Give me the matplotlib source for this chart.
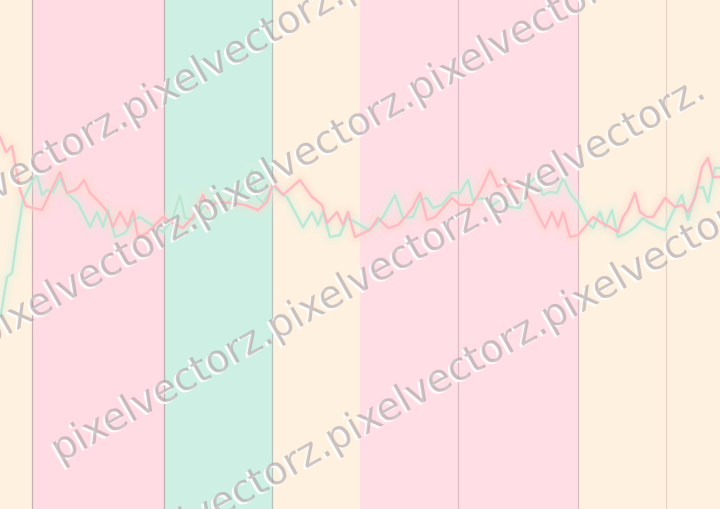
import matplotlib
matplotlib.use("Agg")
import matplotlib.pyplot as plt
import matplotlib.patheffects as pe

# faixas de fundo
band_edges = [0, 32, 164, 272, 360, 458, 578, 666, 720]
band_colors = ["#fef1e0", "#ffdbe3", "#cef0e4", "#fef1e0",
               "#ffdee5", "#ffdee5", "#fef1e0", "#fef1e0"]
divisores = [32, 164, 272, 458, 578, 666]
cor_divisor = ["#c7b0b4", "#bdb2b0", "#b9c2bc", "#d9bcc4", "#dcbcc2", "#e6d4c6"]

# serie rosa
rosa_t = [0, 6, 12, 20, 26, 33, 42, 50, 60, 67,
          73, 78, 84, 90, 100, 107, 113, 120, 128, 133,
          138, 147, 157, 163, 173, 183, 193, 203, 208, 217,
          233, 245, 253, 258, 267, 273, 283, 300, 312, 322,
          327, 337, 343, 348, 355, 363, 370, 378, 388, 398,
          407, 413, 420, 427, 435, 443, 452, 460, 472, 480,
          490, 498, 505, 515, 523, 532, 538, 545, 552, 558,
          563, 570, 578, 585, 593, 602, 610, 618, 623, 628,
          635, 640, 647, 653, 665, 675, 682, 688, 695, 702,
          708, 713, 720]
rosa_v = [372, 357, 363, 319, 303, 301, 299, 316, 337, 316,
          318, 321, 329, 316, 306, 298, 282, 297, 282, 298,
          272, 276, 286, 292, 286, 281, 292, 314, 301, 307,
          306, 304, 301, 299, 307, 326, 314, 329, 312, 304,
          286, 297, 284, 297, 272, 276, 279, 291, 281, 284,
          294, 302, 316, 289, 292, 301, 311, 304, 304, 317,
          339, 322, 327, 321, 322, 307, 294, 281, 297, 282,
          297, 272, 274, 282, 292, 286, 282, 277, 292, 299,
          316, 297, 292, 292, 311, 302, 304, 297, 311, 342,
          351, 332, 332]

# serie verde
verde_t = [0, 7, 12, 17, 23, 32, 37, 42, 47, 53,
           60, 67, 78, 90, 97, 103, 108, 115, 125, 133,
           140, 147, 155, 163, 172, 180, 185, 193, 203, 213,
           222, 233, 240, 252, 257, 263, 273, 287, 303, 312,
           318, 323, 330, 340, 347, 357, 368, 375, 383, 395,
           403, 413, 420, 427, 433, 442, 452, 460, 468, 473,
           482, 490, 500, 510, 520, 530, 537, 543, 550, 557,
           563, 570, 578, 587, 593, 600, 605, 612, 618, 627,
           635, 643, 648, 657, 665, 673, 682, 688, 697, 703,
           708, 715, 720]
verde_v = [189, 232, 236, 272, 309, 327, 334, 314, 319, 317,
           331, 316, 306, 282, 297, 282, 299, 272, 276, 289,
           292, 287, 282, 277, 289, 314, 291, 289, 302, 309,
           301, 312, 317, 339, 312, 306, 322, 312, 282, 297,
           284, 297, 272, 274, 291, 286, 279, 284, 292, 314,
           291, 292, 309, 311, 301, 304, 316, 316, 329, 309,
           311, 302, 309, 302, 301, 327, 332, 314, 317, 316,
           331, 316, 306, 287, 281, 297, 282, 299, 272, 276,
           282, 291, 287, 282, 279, 297, 314, 289, 321, 322,
           307, 341, 341]

marca = "pixelvectorz."
# inicio de cada linha da marca d'agua (x, y) e angulo
marca_linhas = [(-85, 263), (-15, 161), (60, 46), (118, -66)]
marca_angulo = 29.5

fig = plt.figure(figsize=(7.2, 5.09), dpi=100)
ax = fig.add_axes([0, 0, 1, 1])
ax.set_xlim(0, 720)
ax.set_ylim(0, 509)
ax.axis("off")

for i in range(len(band_colors)):
    ax.axvspan(band_edges[i], band_edges[i + 1], color=band_colors[i], lw=0, zorder=0)
for x, c in zip(divisores, cor_divisor):
    ax.axvline(x, color=c, lw=0.9, zorder=1)

# brilho em volta das linhas
for lw, a in [(12, 0.12), (7, 0.18), (4, 0.22)]:
    ax.plot(rosa_t, rosa_v, color="#ffdcc8", lw=lw, alpha=a, solid_capstyle="round", zorder=2)
    ax.plot(verde_t, verde_v, color="#dcf2e2", lw=lw, alpha=a, solid_capstyle="round", zorder=2)

ax.plot(verde_t, verde_v, color="#b8e6d4", lw=1.7, alpha=0.9, zorder=3)
ax.plot(rosa_t, rosa_v, color="#ffb5c4", lw=1.7, alpha=0.9, zorder=3)

for x0, y0 in marca_linhas:
    ax.text(x0, y0, marca * 3, fontsize=28, color="#a49a9c", alpha=0.55,
            rotation=marca_angulo, rotation_mode="anchor", ha="left", va="baseline",
            family="DejaVu Sans", zorder=5, clip_on=True,
            path_effects=[pe.withSimplePatchShadow(offset=(-1.5, -1.5),
                                                    shadow_rgbFace="white", alpha=0.9)])

plt.savefig("out.png", dpi=100)
